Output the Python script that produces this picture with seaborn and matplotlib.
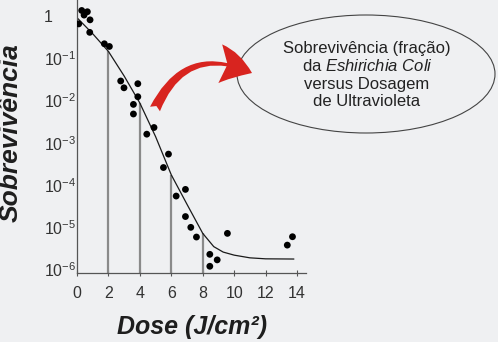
import numpy as np
import pandas as pd
import matplotlib
matplotlib.use("Agg")
import matplotlib.pyplot as plt
import seaborn as sns
from matplotlib.patches import Ellipse, FancyArrowPatch

# ---- data ----
dose_pts = [0.11, 0.30, 0.45, 0.66, 0.83, 0.81, 1.74, 2.06, 2.78, 2.99, 3.87, 3.87,
            3.59, 3.59, 4.90, 4.44, 5.82, 5.50, 6.31, 6.90, 6.90, 7.24, 7.60, 8.45,
            8.45, 8.92, 9.57, 13.38, 13.71]
surv_pts = [0.65, 1.35, 1.05, 1.26, 0.81, 0.41, 0.22, 0.19, 0.029, 0.020, 0.025, 0.0123,
            0.0081, 0.0048, 0.0023, 0.0016, 5.4e-4, 2.6e-4, 5.5e-5, 7.9e-5, 1.8e-5, 1.0e-5,
            5.9e-6, 2.3e-6, 1.2e-6, 1.7e-6, 7.2e-6, 3.8e-6, 6.0e-6]

dose_fit = [0, 1, 2, 3, 4, 5, 6, 7, 8, 8.7, 9.3, 10, 11, 12, 13.8]
surv_fit = [0.91, 0.38, 0.145, 0.038, 8.7e-3, 1.4e-3, 1.74e-4, 3.5e-5, 7.2e-6,
            3.5e-6, 2.6e-6, 2.2e-6, 1.9e-6, 1.8e-6, 1.78e-6]

vline_dose = [2, 4, 6, 8]
vline_surv = [0.145, 8.7e-3, 1.74e-4, 7.2e-6]

xticks = [0, 2, 4, 6, 8, 10, 12, 14]
yticks = [1, 1e-1, 1e-2, 1e-3, 1e-4, 1e-5, 1e-6]
ytick_labels = ["1", "$10^{-1}$", "$10^{-2}$", "$10^{-3}$", "$10^{-4}$", "$10^{-5}$", "$10^{-6}$"]

title_lines = ["Sobrevivência (fração)", r"da $\mathit{Eshirichia\ Coli}$",
               "versus Dosagem", "de Ultravioleta"]

# ---- style ----
sns.set_style("ticks")
bg = "#eff0f2"
plt.rcParams["font.family"] = ["Liberation Sans", "DejaVu Sans"]
plt.rcParams["mathtext.fontset"] = "custom"
plt.rcParams["mathtext.rm"] = "Liberation Sans"
plt.rcParams["mathtext.it"] = "Liberation Sans:italic"
plt.rcParams["mathtext.bf"] = "Liberation Sans:bold"

W, H = 498, 342
fig = plt.figure(figsize=(W / 100, H / 100), dpi=100, facecolor=bg)
ax = fig.add_axes([77 / W, (H - 273) / H, (306 - 77) / W, 273 / H])
ax.set_facecolor(bg)

pts = pd.DataFrame({"dose": dose_pts, "surv": surv_pts})
fit = pd.DataFrame({"dose": dose_fit, "surv": surv_fit})

ax.set_yscale("log")
ymin, ymax = 10 ** -6.08, 10 ** 0.378
ax.vlines(vline_dose, ymin, vline_surv, colors="#8a8a8a", linewidth=1.6, zorder=1)
sns.lineplot(data=fit, x="dose", y="surv", ax=ax, color="#1a1a1a", linewidth=0.9, zorder=2)
sns.scatterplot(data=pts, x="dose", y="surv", ax=ax, color="black", s=24,
                edgecolor="none", zorder=3)

ax.set_xlim(0, 14.57)
ax.set_ylim(ymin, ymax)
ax.set_xticks(xticks)
ax.set_xticklabels([str(t) for t in xticks])
ax.set_yticks(yticks)
ax.set_yticklabels(ytick_labels)
ax.yaxis.set_minor_locator(matplotlib.ticker.NullLocator())

for s in ["top", "right"]:
    ax.spines[s].set_visible(False)
for s in ["left", "bottom"]:
    ax.spines[s].set_color("#555555")
    ax.spines[s].set_linewidth(0.9)

ax.tick_params(axis="x", direction="inout", length=4, width=0.8, color="#555555",
               labelsize=11.5, labelcolor="#333333", pad=7)
ax.tick_params(axis="y", length=0, labelsize=11.5, labelcolor="#333333", pad=24)
for lab in ax.get_yticklabels():
    lab.set_horizontalalignment("left")

ax.set_xlabel("Dose (J/cm²)", fontsize=18, fontweight="bold", fontstyle="italic",
              color="#1e1e1e")
ax.xaxis.set_label_coords((192 - 77) / 229, (273 - 327) / 273)
ax.xaxis.label.set_verticalalignment("center")
ax.set_ylabel("Sobrevivência", fontsize=19, fontweight="bold", fontstyle="italic",
              color="#1e1e1e")
ax.yaxis.set_label_coords((11 - 77) / 229, (273 - 133) / 273)
ax.yaxis.label.set_verticalalignment("center")

# ellipse annotation
ell = Ellipse((366 / W, (H - 74) / H), 258 / W, 118 / H, transform=fig.transFigure,
              facecolor="none", edgecolor="#444444", linewidth=0.8)
fig.add_artist(ell)
for line, ypx in zip(title_lines, [48, 66, 84, 102]):
    fig.text(367 / W, (H - ypx) / H, line, ha="center", va="center", fontsize=12,
             color="#222222")

arrow = FancyArrowPatch((155 / W, (H - 109) / H), (252 / W, (H - 73) / H),
                        transform=fig.transFigure,
                        connectionstyle="arc3,rad=-0.5",
                        arrowstyle="fancy,head_length=0.85,head_width=1.0,tail_width=0.28",
                        mutation_scale=28, color="#d8241f", shrinkA=0, shrinkB=0,
                        linewidth=0)
fig.add_artist(arrow)

fig.savefig("out.png", dpi=100, facecolor=bg)
